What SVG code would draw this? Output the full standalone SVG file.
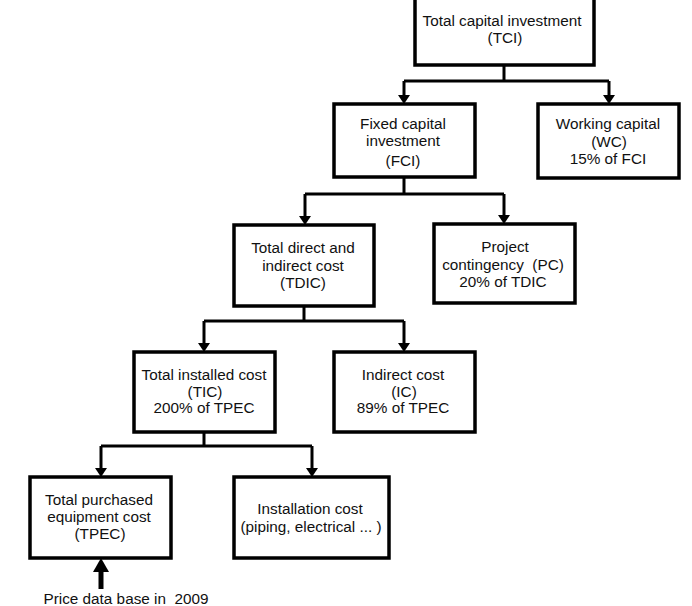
<svg xmlns="http://www.w3.org/2000/svg" width="692" height="606" viewBox="0 0 692 606">
<style>
.box{fill:#fff;stroke:#000;stroke-width:3.5}
.t{font-family:"Liberation Sans",Arial,sans-serif;font-size:15.3px;fill:#111;text-anchor:middle}
.c0{fill:none;stroke:#000;stroke-width:3}
</style>
<rect width="692" height="606" fill="#fff"/>
<g id="connectors">
<path class="c0" d="M504,65 V81 M404,81 H609"/>
<path d="M404,81 V96" class="c0"/><path d="M398,95 H410 L404,104 Z"/>
<path d="M609,81 V96" class="c0"/><path d="M603,95 H615 L609,104 Z"/>
<path class="c0" d="M404,177 V194 M305,194 H504"/>
<path d="M305,194 V217" class="c0"/><path d="M299,216 H311 L305,225 Z"/>
<path d="M504,194 V216" class="c0"/><path d="M498,215 H510 L504,224 Z"/>
<path class="c0" d="M304,306 V321 M204,321 H404"/>
<path d="M204,321 V344" class="c0"/><path d="M198,343 H210 L204,352 Z"/>
<path d="M404,321 V344" class="c0"/><path d="M398,343 H410 L404,352 Z"/>
<path class="c0" d="M204,432 V446 M101,446 H312"/>
<path d="M101,446 V469" class="c0"/><path d="M95,468 H107 L101,477 Z"/>
<path d="M312,446 V469" class="c0"/><path d="M306,468 H318 L312,477 Z"/>
<path d="M101,589 V570" stroke="#000" stroke-width="5" fill="none"/><path d="M93,572 H109 L101,558 Z"/>
</g>
<g id="tci"><rect class="box" x="415" y="-5" width="179" height="70"/>
<text class="t" x="502" y="26">Total capital investment</text><text class="t" x="505" y="43">(TCI)</text></g>
<g id="wc"><rect class="box" x="538" y="104" width="141" height="74"/>
<text class="t" x="608" y="129">Working capital</text><text class="t" x="609" y="147">(WC)</text><text class="t" x="608" y="164">15% of FCI</text></g>
<g id="fci"><rect class="box" x="334" y="104" width="141" height="73"/>
<text class="t" x="403" y="129">Fixed capital</text><text class="t" x="403" y="146">investment</text><text class="t" x="403" y="166">(FCI)</text></g>
<g id="tdic"><rect class="box" x="234" y="225" width="140" height="81"/>
<text class="t" x="303" y="253">Total direct and</text><text class="t" x="303" y="271">indirect cost</text><text class="t" x="303" y="288">(TDIC)</text></g>
<g id="pc"><rect class="box" x="434" y="224" width="141" height="79"/>
<text class="t" x="505" y="252">Project</text><text class="t" x="503" y="270" xml:space="preserve">contingency  (PC)</text><text class="t" x="503" y="287">20% of TDIC</text></g>
<g id="tic"><rect class="box" x="134" y="352" width="141" height="80"/>
<text class="t" x="204" y="380">Total installed cost</text><text class="t" x="205" y="397">(TIC)</text><text class="t" x="204" y="413">200% of TPEC</text></g>
<g id="ic"><rect class="box" x="334" y="352" width="141" height="80"/>
<text class="t" x="403" y="380">Indirect cost</text><text class="t" x="404" y="397">(IC)</text><text class="t" x="403" y="413">89% of TPEC</text></g>
<g id="tpec"><rect class="box" x="30" y="477" width="141" height="81"/>
<text class="t" x="99" y="505">Total purchased</text><text class="t" x="99" y="522">equipment cost</text><text class="t" x="100" y="539">(TPEC)</text></g>
<g id="inst"><rect class="box" x="234" y="477" width="155" height="81"/>
<text class="t" x="310" y="514">Installation cost</text><text class="t" x="311" y="532">(piping, electrical ... )</text></g>
<g id="price"><text class="t" x="126" y="604" xml:space="preserve">Price data base in  2009</text></g>
</svg>
